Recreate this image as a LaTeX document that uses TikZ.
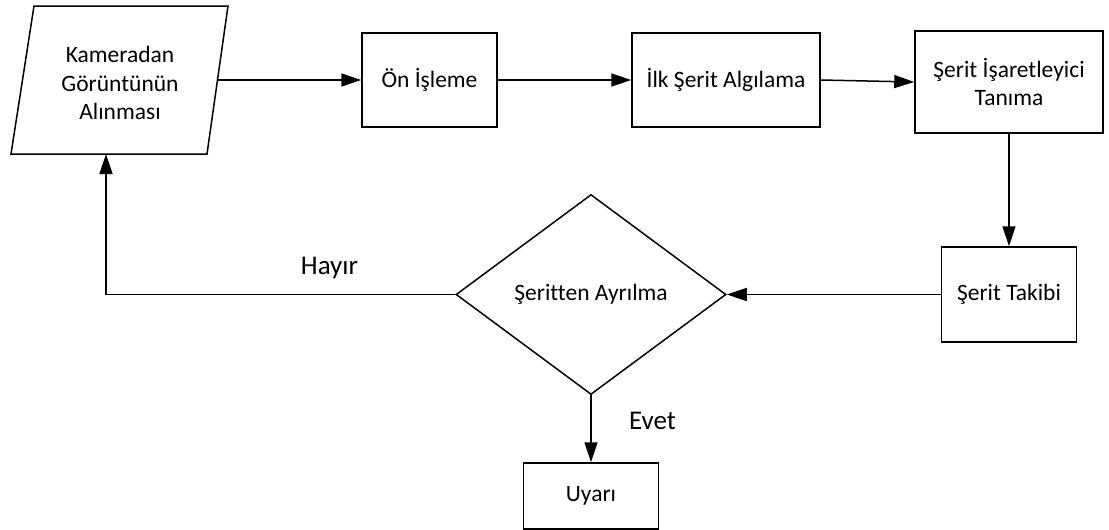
\documentclass[tikz,border=0pt]{standalone}
\usepackage{fontspec}
\setmainfont[Ligatures=CommonOff]{Carlito}
\usetikzlibrary{arrows.meta,shapes.geometric}
\begin{document}
\begin{tikzpicture}[x=1pt,y=-1pt,
  every node/.style={font=\fontsize{23.5}{28.5}\selectfont, text=black},
  flowline/.style={line width=1.5pt, draw=black},
  flowarrow/.style={flowline, -{Triangle[length=20pt,width=13pt]}},
  procbox/.style={draw=black, line width=1.5pt, rectangle, inner sep=0pt, align=center},
  decision/.style={draw=black, line width=1.5pt, diamond, aspect=1.35, inner sep=0pt,
                   minimum width=270pt, minimum height=200pt, align=center},
  branchlabel/.style={font=\fontsize{27}{32}\selectfont, anchor=base}]
  \useasboundingbox (0,0) rectangle (1109,530);

  % input step (parallelogram)
  \coordinate (camTL) at (34,6);
  \coordinate (camTR) at (228,6);
  \coordinate (camBR) at (207,154);
  \coordinate (camBL) at (11,154);
  \draw[line width=1.5pt] (camTL) -- (camTR) -- (camBR) -- (camBL) -- cycle;
  \node[align=center] (cam) at (120,83) {Kameradan\\Görüntünün\\Alınması};
  \coordinate (camOut) at (217.5,80);
  \coordinate (camIn) at (106,154);

  % processing steps
  \node[procbox, minimum width=135pt, minimum height=94pt] (pre) at (429.5,80) {Ön İşleme};
  \node[procbox, minimum width=188pt, minimum height=94pt] (ilk) at (726,80) {İlk Şerit Algılama};
  \node[procbox, minimum width=188pt, minimum height=102pt] (isr) at (1009,82) {Şerit İşaretleyici\\Tanıma};
  \node[procbox, minimum width=135pt, minimum height=95pt] (tak) at (1009,294.5) {Şerit Takibi};
  \node[decision] (dia) at (591,294.5) {Şeritten Ayrılma};
  \node[procbox, minimum width=135pt, minimum height=66pt] (uy) at (591,496) {Uyarı};

  % connectors
  \draw[flowarrow] (camOut) -- (pre.west);
  \draw[flowarrow] (pre.east) -- (ilk.west);
  \draw[flowarrow] (ilk.east) -- (isr.west);
  \draw[flowarrow] (isr.south) -- (tak.north);
  \draw[flowarrow] (tak.west) -- (dia.east);
  \draw[flowarrow] (dia.south) -- (uy.north);
  \draw[flowarrow] (dia.west) -| (camIn);

  % branch labels
  \node[branchlabel] (hayir) at (329.5,274) {Hayır};
  \node[branchlabel] (evet) at (652.5,429) {Evet};
\end{tikzpicture}
\end{document}
